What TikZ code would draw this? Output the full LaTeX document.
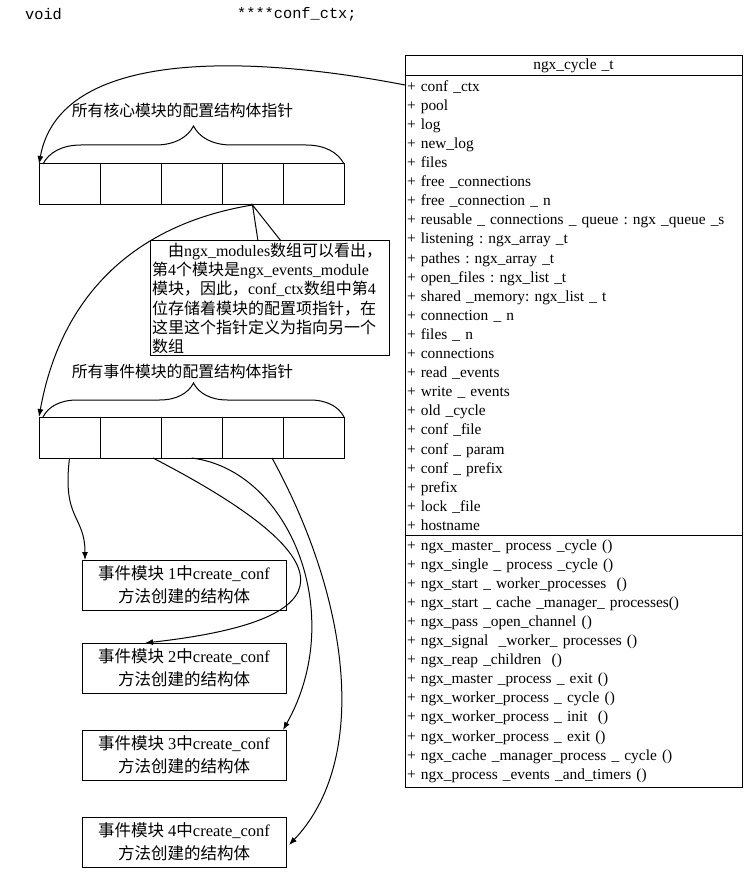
\documentclass[tikz,border=0pt]{standalone}
\usepackage{fontspec}
\setmainfont{Liberation Serif}
\setmonofont{Liberation Mono}
\newfontfamily\cjk{Noto Sans CJK SC}
\usetikzlibrary{positioning,calc,arrows.meta,decorations.pathreplacing}
\frenchspacing
\newcommand{\zh}[1]{{\cjk #1}}
\tikzset{cell/.style={draw,line width=#1,minimum width=61pt,minimum height=41pt,inner sep=0pt,outer sep=0pt},cell/.default=1pt}
\tikzset{note/.style={draw,line width=1pt,fill=white,text width=235pt,align=left,inner sep=2pt,outer sep=0pt,font=\fontsize{16}{19.2}\selectfont}}
\tikzset{event/.style={draw,line width=1pt,minimum width=204pt,minimum height=50pt,align=center,inner sep=0pt,outer sep=0pt,font=\fontsize{16.5}{23}\selectfont}}
\tikzset{member/.style={draw,line width=1pt,text width=333pt,align=left,inner xsep=2pt,inner ysep=0pt,outer sep=0pt,minimum height=#1,font=\fontsize{15.4}{19.1}\selectfont},member/.default=20pt}
\tikzset{ptr/.style={line width=1pt,-{Latex[length=8pt,width=6pt]}}}
\tikzset{bracket/.style={decorate,decoration={brace,amplitude=#1},line width=1pt},bracket/.default=36pt}
\tikzset{caption/.style={inner sep=0pt,font=\cjk\fontsize{15.8}{18}\selectfont}}
\tikzset{code/.style={anchor=west,inner sep=0pt,font=\ttfamily\fontsize{15.3}{18}\selectfont}}

\begin{document}
\begin{tikzpicture}[x=1pt,y=-1pt]
	\useasboundingbox (0,0) rectangle (750,874);

	\node [code] (vtype) at (25,14) {void};
	\node [code] (vname) at (237,14) {****conf\_ctx;};

	% ngx_cycle_t
	\node [member=20pt,align=center,anchor=north west] (cycle) at (405,56) {ngx\_cycle \_t};
	\node [member=459pt,below=0pt of cycle] (fields) {%
		+ conf \_ctx\\
		+ pool\\
		+ log\\
		+ new\_log\\
		+ files\\
		+ free \_connections\\
		+ free \_connection \_ n\\
		+ reusable \_ connections \_ queue : ngx \_queue \_s\\
		+ listening : ngx\_array \_t\\
		+ pathes : ngx\_array \_t\\
		+ open\_files : ngx\_list \_t\\
		+ shared \_memory: ngx\_list \_ t\\
		+ connection \_ n\\
		+ files \_ n\\
		+ connections\\
		+ read \_events\\
		+ write \_ events\\
		+ old \_cycle\\
		+ conf \_file\\
		+ conf \_ param\\
		+ conf \_ prefix\\
		+ prefix\\
		+ lock \_file\\
		+ hostname};
	\node [member=252pt,below=0pt of fields] (methods) {%
		+ ngx\_master\_ process \_cycle ()\\
		+ ngx\_single \_ process \_cycle ()\\
		+ ngx\_start \_ worker\_processes \ ()\\
		+ ngx\_start \_ cache \_manager\_ processes()\\
		+ ngx\_pass \_open\_channel ()\\
		+ ngx\_signal \ \_worker\_ processes ()\\
		+ ngx\_reap \_children \ ()\\
		+ ngx\_master \_process \_ exit ()\\
		+ ngx\_worker\_process \_ cycle ()\\
		+ ngx\_worker\_process \_ init \ ()\\
		+ ngx\_worker\_process \_ exit ()\\
		+ ngx\_cache \_manager\_process \_ cycle ()\\
		+ ngx\_process \_events \_and\_timers ()};
	\coordinate (ctxrow) at ($(fields.north west)+(0,9)$);

	% core modules
	\node [cell,anchor=north west] (a1) at (39,164) {};
	\node [cell,right=0pt of a1] (a2) {};
	\node [cell,right=0pt of a2] (a3) {};
	\node [cell,right=0pt of a3] (a4) {};
	\node [cell,right=0pt of a4] (a5) {};
	\draw [bracket=38pt] ($(a1.north west)+(4,0)$) -- (a5.north east);
	\node [caption,xshift=-9pt,yshift=54pt] (corecap) at ($(a1.north west)!0.5!(a5.north east)$) {所有核心模块的配置结构体指针};
	\draw [ptr] (ctxrow) .. controls (250,55) and (60,48) .. (a1.north west);

	% note
	\node [note,anchor=north west] (note) at (150,241) {%
		\hspace*{1em}\zh{由}ngx\_modules\zh{数组可以看出，}\\
		\zh{第}4\zh{个模块是}ngx\_events\_module\\
		\zh{模块，因此，}conf\_ctx\zh{数组中第}4\\
		\zh{位存储着模块的配置项指针，在}\\
		\zh{这里这个指针定义为指向另一个}\\
		\zh{数组}};
	\draw [line width=1pt] ($(note.north west)+(108,0)$) -- (a4.south) -- ($(note.north west)+(131,0)$);

	% event modules
	\node [cell,anchor=north west] (b1) at (39,417) {};
	\node [cell,right=0pt of b1] (b2) {};
	\node [cell,right=0pt of b2] (b3) {};
	\node [cell,right=0pt of b3] (b4) {};
	\node [cell,right=0pt of b4] (b5) {};
	\draw [bracket=34pt] ($(b1.north west)+(4,0)$) -- (b5.north east);
	\node [caption,xshift=-9pt,yshift=46pt] (eventcap) at ($(b1.north west)!0.5!(b5.north east)$) {所有事件模块的配置结构体指针};
	\draw [ptr] (a4.south) .. controls (130,225) and (60,300) .. (b1.north west);

	\node [event,anchor=north west] (e1) at (82,560) {\zh{事件模块} 1\zh{中}create\_conf\\\zh{方法创建的结构体}};
	\node [event,below=33pt of e1] (e2) {\zh{事件模块} 2\zh{中}create\_conf\\\zh{方法创建的结构体}};
	\node [event,below=37pt of e2] (e3) {\zh{事件模块} 3\zh{中}create\_conf\\\zh{方法创建的结构体}};
	\node [event,below=37pt of e3] (e4) {\zh{事件模块} 4\zh{中}create\_conf\\\zh{方法创建的结构体}};

	\draw [ptr] (b1.south) .. controls (62,520) and (85,515) .. ($(e1.north west)+(3,0)$);
	\draw [ptr] ($(b2.south east)+(-8,0)$) .. controls (350,560) and (350,620) .. ($(e2.north west)+(63,0)$);
	\draw [ptr] (b3.south) .. controls (290,470) and (348,615) .. ($(e3.north east)+(-3,0)$);
	\draw [ptr] ($(b4.south east)+(-11,0)$) .. controls (350,600) and (370,760) .. ($(e4.east)+(3,3)$);
\end{tikzpicture}
\end{document}
